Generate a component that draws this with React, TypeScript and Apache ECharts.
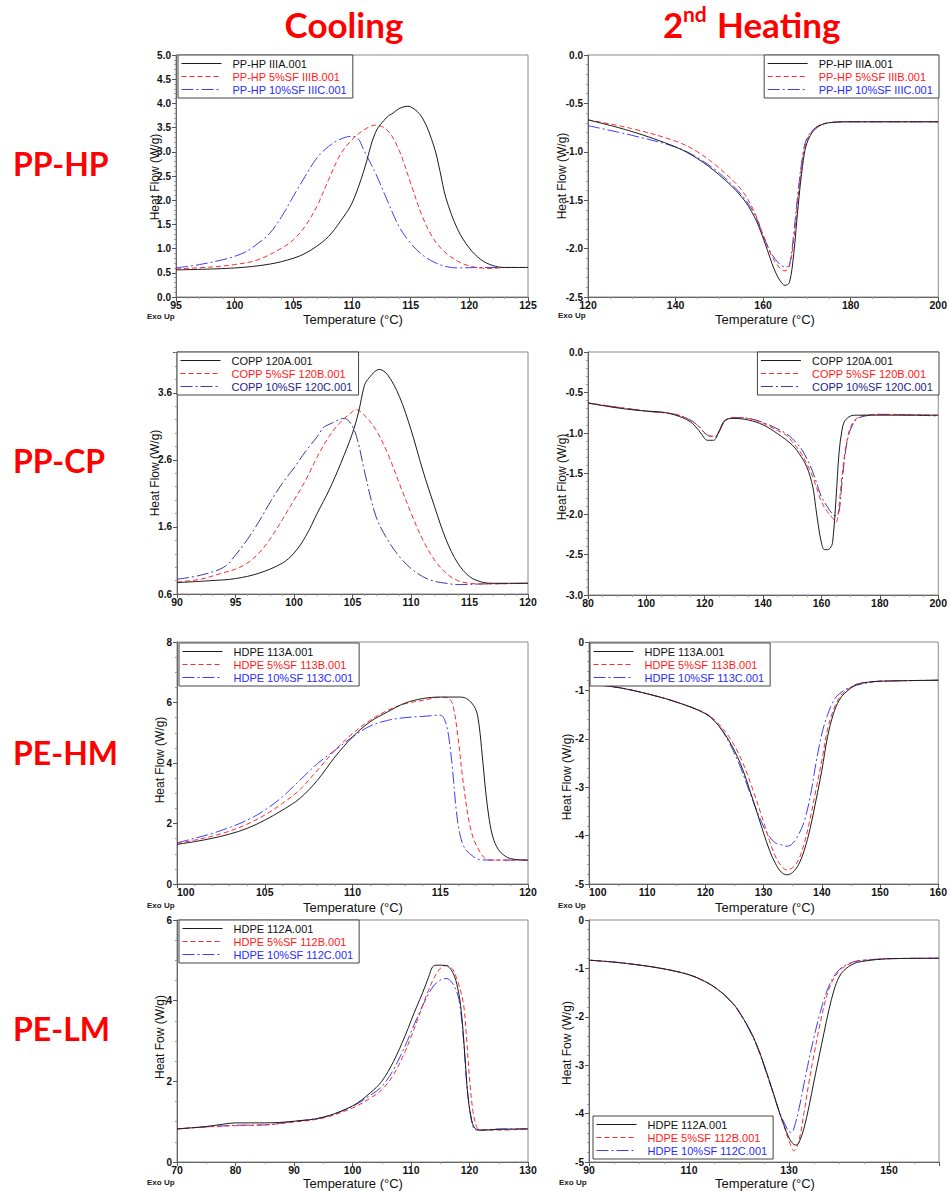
import React, { useEffect, useRef } from "react";
import * as echarts from "echarts";

const FONT = "'Liberation Sans', Arial, sans-serif";
const TITLE_FONT = "Lato, 'Open Sans', sans-serif";

// ---------- Data (Temperature °C, Heat Flow W/g) ----------
// PP-HP cooling
const hpCoolA = [[95,0.56],[100,0.60],[103,0.68],[105,0.80],[106,0.90],[107,1.05],[108,1.25],[109,1.56],[110,1.94],[111,2.6],[112,3.4],[113,3.72],[113.5,3.8],[114,3.89],[114.7,3.94],[115,3.93],[116,3.7],[117,3.1],[117.5,2.6],[118,2.05],[119,1.4],[120,1.01],[121,0.77],[122,0.65],[123,0.61],[125,0.61]];
const hpCoolB = [[95,0.58],[98,0.62],[100,0.67],[102,0.77],[104,1.01],[105,1.18],[106,1.46],[107,1.87],[108,2.42],[109,2.94],[110,3.25],[111,3.45],[112,3.55],[113,3.45],[114,3.04],[115,2.35],[116,1.66],[117,1.18],[118,0.91],[119,0.74],[120,0.64],[121,0.6],[122,0.59],[123,0.61],[125,0.61]];
const hpCoolC = [[95,0.6],[97,0.67],[99,0.77],[100,0.84],[101,0.94],[102,1.11],[103,1.32],[104,1.66],[105,2.08],[106,2.49],[107,2.87],[108,3.11],[109,3.26],[110,3.32],[110.5,3.28],[111,3.04],[112,2.56],[113,2.0],[114,1.46],[115,1.11],[116,0.87],[117,0.72],[118,0.63],[119,0.6],[121,0.61],[125,0.61]];
// PP-HP 2nd heating
const hpHeatA = [[120,-0.67],[130,-0.79],[140,-0.95],[145,-1.07],[150,-1.24],[155,-1.46],[158,-1.67],[160,-1.89],[162,-2.15],[163,-2.26],[164,-2.34],[165,-2.38],[166,-2.35],[167,-2.05],[168,-1.56],[169,-1.15],[170,-0.91],[172,-0.76],[175,-0.70],[180,-0.69],[200,-0.69]];
const hpHeatB = [[120,-0.67],[130,-0.76],[140,-0.89],[145,-1.0],[150,-1.17],[155,-1.39],[158,-1.62],[160,-1.86],[162,-2.08],[164,-2.21],[165,-2.23],[166,-2.18],[167,-1.91],[168,-1.46],[169,-1.08],[170,-0.88],[172,-0.75],[175,-0.70],[180,-0.69],[200,-0.69]];
const hpHeatC = [[120,-0.73],[130,-0.83],[140,-0.95],[145,-1.06],[150,-1.22],[155,-1.44],[158,-1.64],[160,-1.86],[162,-2.06],[164,-2.17],[165,-2.19],[166,-2.17],[167,-1.84],[168,-1.41],[169,-1.05],[170,-0.86],[172,-0.75],[175,-0.70],[180,-0.69],[200,-0.69]];
// PP-CP cooling
const cpCoolA = [[90,0.77],[93,0.8],[95,0.83],[97,0.91],[99,1.06],[100,1.21],[101,1.46],[102,1.81],[103,2.15],[104,2.55],[105,3.0],[105.5,3.3],[106,3.7],[106.3,3.8],[107.3,3.95],[108,3.87],[109,3.55],[110,3.05],[111,2.45],[112,1.91],[113,1.41],[114,1.06],[115,0.86],[116,0.78],[117,0.76],[120,0.76]];
const cpCoolB = [[90,0.78],[92,0.82],[94,0.92],[95,0.97],[96,1.06],[97,1.21],[98,1.43],[99,1.71],[100,2.0],[101,2.3],[102,2.65],[103,2.95],[104,3.17],[105,3.32],[105.3,3.35],[106,3.27],[107,3.05],[108,2.7],[109,2.25],[110,1.81],[111,1.41],[112,1.11],[113,0.91],[114,0.8],[115,0.76],[116,0.75],[120,0.76]];
const cpCoolC = [[90,0.82],[92,0.88],[94,1.0],[95,1.18],[96,1.41],[97,1.68],[98,1.98],[99,2.25],[100,2.48],[101,2.73],[102,2.95],[102.5,3.08],[103,3.13],[104,3.21],[104.3,3.22],[105,3.1],[105.5,2.85],[106,2.45],[107,1.76],[108,1.41],[109,1.16],[110,0.98],[111,0.86],[112,0.79],[113,0.76],[114,0.74],[116,0.75],[120,0.76]];
// PP-CP 2nd heating
const cpHeatA = [[80,-0.63],[90,-0.69],[100,-0.73],[105,-0.74],[110,-0.78],[115,-0.86],[118,-0.97],[120,-1.07],[121,-1.09],[123,-1.09],[125,-0.97],[127,-0.84],[130,-0.82],[135,-0.84],[140,-0.90],[145,-1.01],[150,-1.15],[153,-1.29],[155,-1.42],[157,-1.66],[158,-1.91],[159,-2.16],[160,-2.36],[161,-2.44],[162,-2.44],[163,-2.42],[163.8,-2.35],[165,-1.8],[166,-1.25],[167,-0.97],[168,-0.85],[170,-0.79],[172,-0.78],[200,-0.78]];
const cpHeatB = [[80,-0.63],[100,-0.73],[110,-0.77],[115,-0.84],[118,-0.92],[120,-1.0],[122,-1.04],[124,-1.03],[125,-0.97],[127,-0.85],[130,-0.81],[135,-0.82],[140,-0.88],[145,-0.97],[148,-1.03],[150,-1.11],[153,-1.25],[155,-1.38],[157,-1.54],[159,-1.75],[160,-1.85],[162,-1.97],[164,-2.06],[165,-2.1],[165.5,-2.05],[166,-1.91],[167,-1.54],[168,-1.25],[169,-1.05],[170,-0.92],[172,-0.82],[175,-0.78],[180,-0.77],[200,-0.78]];
const cpHeatC = [[80,-0.63],[100,-0.73],[110,-0.77],[115,-0.84],[118,-0.92],[120,-1.0],[122,-1.04],[124,-1.04],[125,-0.98],[127,-0.85],[130,-0.81],[135,-0.82],[140,-0.87],[145,-0.95],[148,-1.01],[150,-1.07],[153,-1.19],[155,-1.32],[157,-1.48],[159,-1.69],[160,-1.79],[162,-1.91],[164,-2.01],[165,-2.02],[166,-1.97],[167,-1.62],[168,-1.29],[169,-1.07],[170,-0.95],[172,-0.83],[175,-0.79],[180,-0.77],[200,-0.79]];
// PE-HM cooling
const hmCoolA = [[100,1.31],[101,1.40],[102,1.51],[103,1.65],[104,1.84],[105,2.11],[106,2.44],[107,2.83],[108,3.43],[109,4.2],[110,4.86],[111,5.36],[112,5.69],[113,5.98],[114,6.13],[115,6.18],[116,6.18],[116.5,6.13],[117,5.8],[117.2,5.3],[117.4,4.2],[117.6,3.0],[117.8,2.1],[118,1.55],[118.3,1.15],[118.7,0.92],[119,0.84],[119.5,0.8],[120,0.79]];
const hmCoolB = [[100,1.34],[101,1.45],[102,1.58],[103,1.75],[104,1.98],[105,2.28],[106,2.66],[107,3.12],[108,3.76],[109,4.42],[110,4.97],[111,5.41],[112,5.74],[113,5.96],[114,6.07],[115,6.17],[115.4,6.16],[115.7,5.95],[116,4.9],[116.3,3.4],[116.7,1.9],[117.1,1.23],[117.7,0.8],[118,0.79],[120,0.79]];
const hmCoolC = [[100,1.36],[101,1.51],[102,1.67],[103,1.87],[104,2.11],[105,2.44],[106,2.88],[107,3.43],[108,3.98],[109,4.42],[110,4.86],[111,5.22],[112,5.41],[113,5.50],[114,5.54],[115,5.58],[115.3,5.35],[115.5,4.8],[115.7,3.8],[115.9,2.5],[116.1,1.7],[116.4,1.18],[116.9,0.9],[117.3,0.8],[118,0.79],[120,0.79]];
// PE-HM 2nd heating
const hmHeatA = [[100,-0.87],[105,-0.94],[110,-1.07],[115,-1.24],[120,-1.48],[122,-1.69],[124,-2.03],[126,-2.51],[128,-3.2],[130,-3.95],[131,-4.3],[132,-4.57],[133,-4.75],[134,-4.81],[135,-4.76],[136,-4.6],[137,-4.3],[138,-3.85],[139,-3.27],[140,-2.65],[141,-1.95],[142,-1.48],[143,-1.2],[144,-1.05],[146,-0.88],[148,-0.83],[150,-0.81],[160,-0.79]];
const hmHeatB = [[100,-0.87],[105,-0.94],[110,-1.07],[115,-1.24],[120,-1.47],[122,-1.66],[124,-1.95],[126,-2.38],[128,-3.0],[130,-3.72],[131,-4.1],[132,-4.42],[133,-4.62],[134,-4.71],[135,-4.66],[136,-4.5],[137,-4.15],[138,-3.65],[139,-3.05],[140,-2.45],[141,-1.8],[142,-1.4],[143,-1.15],[144,-1.02],[146,-0.87],[148,-0.83],[150,-0.81],[160,-0.79]];
const hmHeatC = [[100,-0.87],[105,-0.94],[110,-1.07],[115,-1.24],[120,-1.48],[122,-1.69],[124,-2.06],[126,-2.58],[128,-3.23],[130,-3.82],[131,-4.02],[132,-4.15],[133,-4.19],[134,-4.22],[135,-4.16],[136,-3.98],[137,-3.7],[138,-3.2],[139,-2.5],[140,-1.9],[141,-1.5],[142,-1.22],[143,-1.07],[145,-0.93],[148,-0.84],[150,-0.81],[160,-0.79]];
// PE-LM cooling
const lmCoolA = [[70,0.82],[75,0.88],[78,0.94],[80,0.97],[85,0.97],[90,1.01],[95,1.11],[100,1.39],[103,1.71],[105,2.0],[107,2.49],[109,3.13],[110,3.5],[111,3.86],[112,4.2],[113,4.58],[113.7,4.84],[114.5,4.88],[116,4.87],[117.2,4.68],[118,4.3],[118.6,3.73],[119.2,2.66],[119.7,1.67],[120.3,1.09],[120.9,0.84],[122,0.79],[125,0.81],[130,0.82]];
const lmCoolB = [[70,0.82],[75,0.87],[80,0.9],[85,0.92],[90,0.99],[95,1.09],[100,1.34],[103,1.58],[105,1.79],[107,2.16],[109,2.74],[110,3.1],[111,3.48],[112,3.88],[113,4.26],[114,4.58],[115,4.8],[116,4.87],[117,4.8],[117.7,4.6],[118.9,3.98],[119.5,3.07],[120,2.08],[120.6,1.25],[121.2,0.88],[121.7,0.8],[122,0.79],[125,0.79],[130,0.82]];
const lmCoolC = [[70,0.82],[75,0.87],[80,0.91],[85,0.92],[90,1.01],[95,1.11],[100,1.38],[103,1.65],[105,1.87],[107,2.29],[109,2.88],[110,3.22],[111,3.56],[112,3.88],[113,4.17],[114,4.39],[115,4.51],[116,4.55],[117,4.45],[118,4.14],[118.5,3.73],[119,2.99],[119.5,2.0],[120,1.34],[120.5,0.92],[121,0.8],[122,0.79],[125,0.82],[130,0.82]];
// PE-LM 2nd heating
const lmHeatA = [[90,-0.83],[95,-0.87],[100,-0.93],[105,-1.01],[110,-1.13],[113,-1.26],[115,-1.38],[117,-1.54],[119,-1.75],[120,-1.89],[121,-2.06],[122,-2.24],[123,-2.45],[124,-2.7],[125,-2.99],[126,-3.3],[127,-3.62],[128,-3.95],[129,-4.24],[130,-4.5],[131,-4.64],[131.5,-4.65],[132,-4.6],[133,-4.3],[134,-3.85],[135,-3.33],[136,-2.83],[137,-2.33],[138,-1.85],[139,-1.45],[140,-1.18],[141,-1.04],[143,-0.9],[145,-0.85],[150,-0.8],[160,-0.79]];
const lmHeatB = [[90,-0.83],[95,-0.87],[100,-0.93],[105,-1.01],[110,-1.13],[113,-1.26],[115,-1.38],[117,-1.54],[119,-1.75],[120,-1.89],[121,-2.06],[122,-2.24],[123,-2.45],[124,-2.7],[125,-2.99],[126,-3.3],[127,-3.62],[128,-3.95],[129,-4.26],[130,-4.56],[131,-4.77],[132,-4.55],[133,-3.98],[134,-3.35],[135,-2.78],[136,-2.25],[137,-1.78],[138,-1.42],[139,-1.2],[140,-1.06],[141,-0.97],[143,-0.87],[145,-0.83],[150,-0.8],[160,-0.79]];
const lmHeatC = [[90,-0.83],[95,-0.87],[100,-0.93],[105,-1.01],[110,-1.13],[113,-1.26],[115,-1.38],[117,-1.54],[119,-1.76],[120,-1.9],[121,-2.07],[122,-2.26],[123,-2.47],[124,-2.72],[125,-3.01],[126,-3.32],[127,-3.63],[128,-3.95],[129,-4.18],[130,-4.37],[130.5,-4.39],[131,-4.3],[132,-3.9],[133,-3.38],[134,-2.88],[135,-2.42],[136,-2.0],[137,-1.64],[138,-1.36],[139,-1.16],[140,-1.03],[141,-0.95],[143,-0.86],[145,-0.83],[150,-0.8],[160,-0.79]];

// ---------- Labels ----------
const ppHpNames = ["PP-HP IIIA.001", "PP-HP 5%SF IIIB.001", "PP-HP 10%SF IIIC.001"];
const coppNames = ["COPP 120A.001", "COPP 5%SF 120B.001", "COPP 10%SF 120C.001"];
const hdpe113Names = ["HDPE 113A.001", "HDPE 5%SF 113B.001", "HDPE 10%SF 113C.001"];
const hdpe112Names = ["HDPE 112A.001", "HDPE 5%SF 112B.001", "HDPE 10%SF 112C.001"];
const rowLabels = ["PP-HP", "PP-CP", "PE-HM", "PE-LM"];
const xTitle = "Temperature (°C)";
const yTitleA = "Heat Flow (W/g)";
const yTitleB = "Heat Fow (W/g)";

// [min, max, interval, minorSplit]
const xRanges = [[95, 125, 5, 5], [120, 200, 20, 4], [90, 120, 5, 5], [80, 200, 20, 4], [100, 120, 5, 5], [100, 160, 10, 2], [70, 130, 10, 2], [90, 160, 20, 4]];
const yRanges = [[0, 5, 0.5, 5], [-2.5, 0, 0.5, 5], [0.6, 4.21, 1, 5], [-3, 0, 0.5, 5], [0, 8, 2, 4], [-5, 0, 1, 5], [0, 6, 2, 4], [-5, 0, 1, 5]];
const yDecimals = [1, 1, 1, 1, 0, 0, 0, 0];

const BLACK = "#1c1c1c";
const RED = "#ff2b2b";
const BLUE = "#3d3dff";
const NAVY = "#3a3aa6";

const panels = [
  { grid: { left: 176, top: 55, width: 352, height: 242 }, curves: [hpCoolA, hpCoolB, hpCoolC], names: ppHpNames, legend: { left: 178, top: 55 }, blue: BLUE, blueText: "#2a2aff", yName: yTitleA, yPos: [155, 177], xName: [353, 319], exo: [147, 316], minLeft: false },
  { grid: { left: 588, top: 55, width: 351, height: 242 }, curves: [hpHeatA, hpHeatB, hpHeatC], names: ppHpNames, legend: { right: 11, top: 55 }, blue: BLUE, blueText: "#2a2aff", yName: yTitleA, yPos: [562, 176], xName: [765, 319], exo: [558, 315], minLeft: false },
  { grid: { left: 177, top: 352, width: 351, height: 242 }, curves: [cpCoolA, cpCoolB, cpCoolC], names: coppNames, legend: { left: 177, top: 352 }, blue: NAVY, blueText: "#1c1c8c", yName: yTitleA, yPos: [155, 473], xName: null, exo: null, minLeft: false },
  { grid: { left: 588, top: 352, width: 351, height: 243 }, curves: [cpHeatA, cpHeatB, cpHeatC], names: coppNames, legend: { right: 11, top: 352 }, blue: NAVY, blueText: "#1c1c8c", yName: yTitleA, yPos: [562, 477], xName: null, exo: null, minLeft: false },
  { grid: { left: 177, top: 642, width: 351, height: 242 }, curves: [hmCoolA, hmCoolB, hmCoolC], names: hdpe113Names, legend: { left: 179, top: 643 }, blue: BLUE, blueText: "#2a2aff", yName: yTitleA, yPos: [160, 760], xName: [353, 907], exo: [147, 905], minLeft: true },
  { grid: { left: 589, top: 642, width: 350, height: 242 }, curves: [hmHeatA, hmHeatB, hmHeatC], names: hdpe113Names, legend: { left: 590, top: 643 }, blue: BLUE, blueText: "#2a2aff", yName: yTitleA, yPos: [567, 777], xName: [765, 907], exo: [558, 905], minLeft: true },
  { grid: { left: 177, top: 920, width: 351, height: 242 }, curves: [lmCoolA, lmCoolB, lmCoolC], names: hdpe112Names, legend: { left: 179, top: 920 }, blue: BLUE, blueText: "#2a2aff", yName: yTitleB, yPos: [160, 1037], xName: [353, 1183], exo: [147, 1182], minLeft: false },
  { grid: { left: 589, top: 920, width: 350, height: 242 }, curves: [lmHeatA, lmHeatB, lmHeatC], names: hdpe112Names, legend: { left: 593, top: 1116 }, blue: BLUE, blueText: "#2a2aff", yName: yTitleB, yPos: [567, 1043], xName: [765, 1183], exo: [559, 1182], minLeft: false },
];

function buildOption() {
  const grid: any[] = [];
  const xAxis: any[] = [];
  const yAxis: any[] = [];
  const series: any[] = [];
  const legend: any[] = [];
  const graphic: any[] = [];

  panels.forEach((p, i) => {
    grid.push({ ...p.grid, show: true, borderColor: "#8a8a8a", borderWidth: 1 });
    const [xmin, xmax, xint, xminor] = xRanges[i];
    const [ymin, ymax, yint, yminor] = yRanges[i];
    const xLabel: any = { fontSize: 10.5, fontWeight: "bold", color: "#111", fontFamily: FONT, margin: 2, showMaxLabel: i !== 7 };
    if (p.minLeft) xLabel.alignMinLabel = "left";
    xAxis.push({
      type: "value", gridIndex: i, min: xmin, max: xmax, interval: xint,
      axisLine: { show: true, onZero: false, lineStyle: { color: "#666", width: 1 } },
      axisTick: { show: true, length: 4, lineStyle: { color: "#555" } },
      minorTick: { show: true, splitNumber: xminor, length: 2, lineStyle: { color: "#999" } },
      splitLine: { show: false },
      axisLabel: xLabel,
    });
    const dec = yDecimals[i];
    yAxis.push({
      type: "value", gridIndex: i, min: ymin, max: ymax, interval: yint,
      axisLine: { show: true, onZero: false, lineStyle: { color: "#666", width: 1 } },
      axisTick: { show: true, length: 4, lineStyle: { color: "#555" } },
      minorTick: { show: true, splitNumber: yminor, length: 2, lineStyle: { color: "#999" } },
      splitLine: { show: false },
      axisLabel: {
        fontSize: 10, fontWeight: "bold", color: "#111", fontFamily: FONT, margin: 5,
        showMaxLabel: i !== 2,
        formatter: (v: number) => (Math.abs(v) < 1e-9 ? 0 : v).toFixed(dec),
      },
    });
    const colors = [BLACK, RED, p.blue];
    const dashes: any[] = ["solid", [5, 3], [12, 3, 2, 3]];
    p.curves.forEach((d, k) => {
      series.push({
        type: "line", name: p.names[k], xAxisIndex: i, yAxisIndex: i, data: d,
        symbol: "none", smooth: 0.35,
        lineStyle: { color: colors[k], width: 1, type: dashes[k] },
        itemStyle: { color: colors[k] },
        z: 3 - k,
      });
    });
    const txtColors = ["#111", "#ff1a1a", p.blueText];
    legend.push({
      ...p.legend, orient: "vertical", selectedMode: false,
      itemWidth: 40, itemHeight: 10, itemGap: 2,
      padding: [3, 6, 3, 3],
      borderColor: "#444", borderWidth: 1, backgroundColor: "#fff",
      itemStyle: { opacity: 0 },
      textStyle: { fontSize: 11, fontFamily: FONT, padding: [0, 0, 0, 6] },
      data: p.names.map((n, k) => ({
        name: n,
        textStyle: { color: txtColors[k] },
        lineStyle: { color: colors[k], width: 1, type: dashes[k] },
        itemStyle: { opacity: 0 },
      })),
    });
    graphic.push({
      type: "text", x: p.yPos[0], y: p.yPos[1], rotation: Math.PI / 2,
      style: { text: p.yName, fontSize: 12, fontFamily: FONT, fill: "#111", align: "center", verticalAlign: "middle" },
    });
    if (p.xName) {
      graphic.push({
        type: "text", x: p.xName[0], y: p.xName[1],
        style: { text: xTitle, fontSize: 13, fontFamily: FONT, fill: "#111", align: "center", verticalAlign: "middle" },
      });
    }
    if (p.exo) {
      graphic.push({
        type: "text", x: p.exo[0], y: p.exo[1],
        style: { text: "Exo Up", fontSize: 8, fontWeight: "bold", fontFamily: FONT, fill: "#222", align: "left", verticalAlign: "middle" },
      });
    }
  });

  const titleStyle = { fontFamily: TITLE_FONT, fontWeight: "bold", fill: "#ff0000" };
  graphic.push({ type: "text", x: 344, y: 24, style: { ...titleStyle, text: "Cooling", fontSize: 35, align: "center", verticalAlign: "middle" } });
  graphic.push({ type: "text", x: 663, y: 24, style: { ...titleStyle, text: "2", fontSize: 35, align: "left", verticalAlign: "middle" } });
  graphic.push({ type: "text", x: 683, y: 13, style: { ...titleStyle, text: "nd", fontSize: 21, align: "left", verticalAlign: "middle" } });
  graphic.push({ type: "text", x: 717, y: 24, style: { ...titleStyle, text: "Heating", fontSize: 35, align: "left", verticalAlign: "middle" } });
  const rowY = [163, 460, 752, 1028];
  rowLabels.forEach((t, r) => {
    graphic.push({ type: "text", x: 13, y: rowY[r], style: { ...titleStyle, text: t, fontSize: 32, align: "left", verticalAlign: "middle" } });
  });

  return { animation: false, backgroundColor: "#fff", grid, xAxis, yAxis, series, legend, graphic };
}

export default function App() {
  const ref = useRef<HTMLDivElement>(null);
  useEffect(() => {
    const chart = echarts.init(ref.current!, null, { renderer: "svg" });
    chart.setOption(buildOption() as any);
    return () => chart.dispose();
  }, []);
  return <div ref={ref} style={{ position: "absolute", left: 0, top: 0, width: 950, height: 1191, background: "#fff" }} />;
}
